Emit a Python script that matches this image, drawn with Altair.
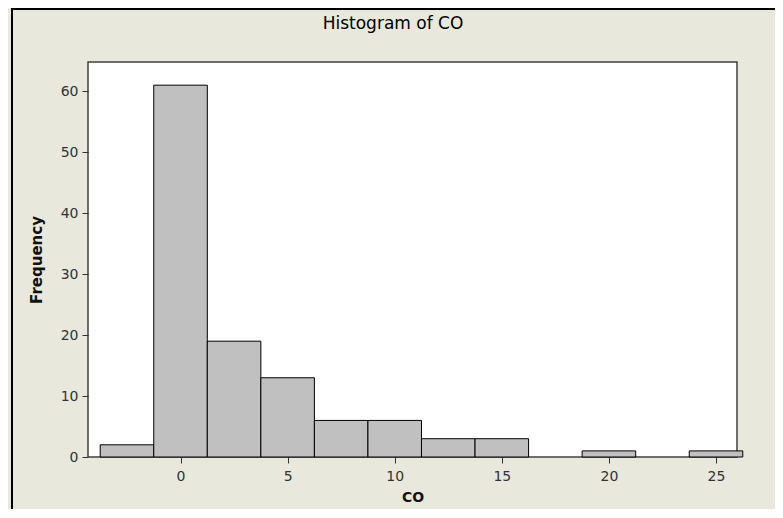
import altair as alt
import pandas as pd

# Histogram of CO (bin width 2.5)
bin_start = [-3.75, -1.25, 1.25, 3.75, 6.25, 8.75, 11.25, 13.75, 16.25, 18.75, 21.25, 23.75]
bin_width = 2.5
counts = [2, 61, 19, 13, 6, 6, 3, 3, 0, 1, 0, 1]
x_ticks = [0, 5, 10, 15, 20, 25]
y_ticks = [0, 10, 20, 30, 40, 50, 60]
chart_title = ["Histogram of CO"]

df = pd.DataFrame({"start": bin_start, "count": counts})
df["end"] = df["start"] + bin_width

FONT = "DejaVu Sans"
BG = "#E8E8DC"

bars = alt.Chart(df).transform_filter(
    "datum.count > 0"
).mark_rect(fill="#C0C0C0", stroke="#000000", strokeWidth=1).encode(
    x=alt.X("start:Q", scale=alt.Scale(domain=[-4.32, 25.98], nice=False, zero=False),
            axis=alt.Axis(values=x_ticks, title="CO", grid=False, domain=False,
                          tickColor="#333333", tickSize=6, labelColor="#333333",
                          labelFontSize=14, labelFont=FONT, labelPadding=6,
                          titleFont=FONT, titleFontSize=14, titleFontWeight="bold",
                          titleColor="#111111", titlePadding=7)),
    x2="end:Q",
    y=alt.Y("count:Q", scale=alt.Scale(domain=[0, 64.8], nice=False),
            axis=alt.Axis(values=y_ticks, title="Frequency", grid=False, domain=False,
                          tickColor="#333333", tickSize=6, labelColor="#333333",
                          labelFontSize=14, labelFont=FONT, labelPadding=4,
                          titleFont=FONT, titleFontSize=15, titleFontWeight="bold",
                          titleColor="#111111", titlePadding=16)),
)

title_df = pd.DataFrame({"t": chart_title})
title = alt.Chart(title_df).mark_text(
    font=FONT, fontSize=17, color="#000000", align="center", baseline="middle", clip=False
).encode(text="t:N", x=alt.value(305), y=alt.value(-38))

# image frame lines (top and left black border)
top_line = alt.Chart(title_df).mark_rule(color="#000000", strokeWidth=2, clip=False).encode(
    x=alt.value(-77), x2=alt.value(700), y=alt.value(-53)
)
left_line = alt.Chart(title_df).mark_rule(color="#000000", strokeWidth=2, clip=False).encode(
    x=alt.value(-76), y=alt.value(-54), y2=alt.value(460)
)

chart = alt.layer(bars, title, top_line, left_line).properties(
    width=649,
    height=395,
    background=BG,
    padding={"left": 80, "top": 54, "right": 38, "bottom": 52},
    autosize=alt.AutoSizeParams(type="none"),
).configure_view(
    fill="#FFFFFF", stroke="#404040", strokeWidth=1.5
)

chart.save("out.html", embed_options={"renderer": "svg", "actions": False})
